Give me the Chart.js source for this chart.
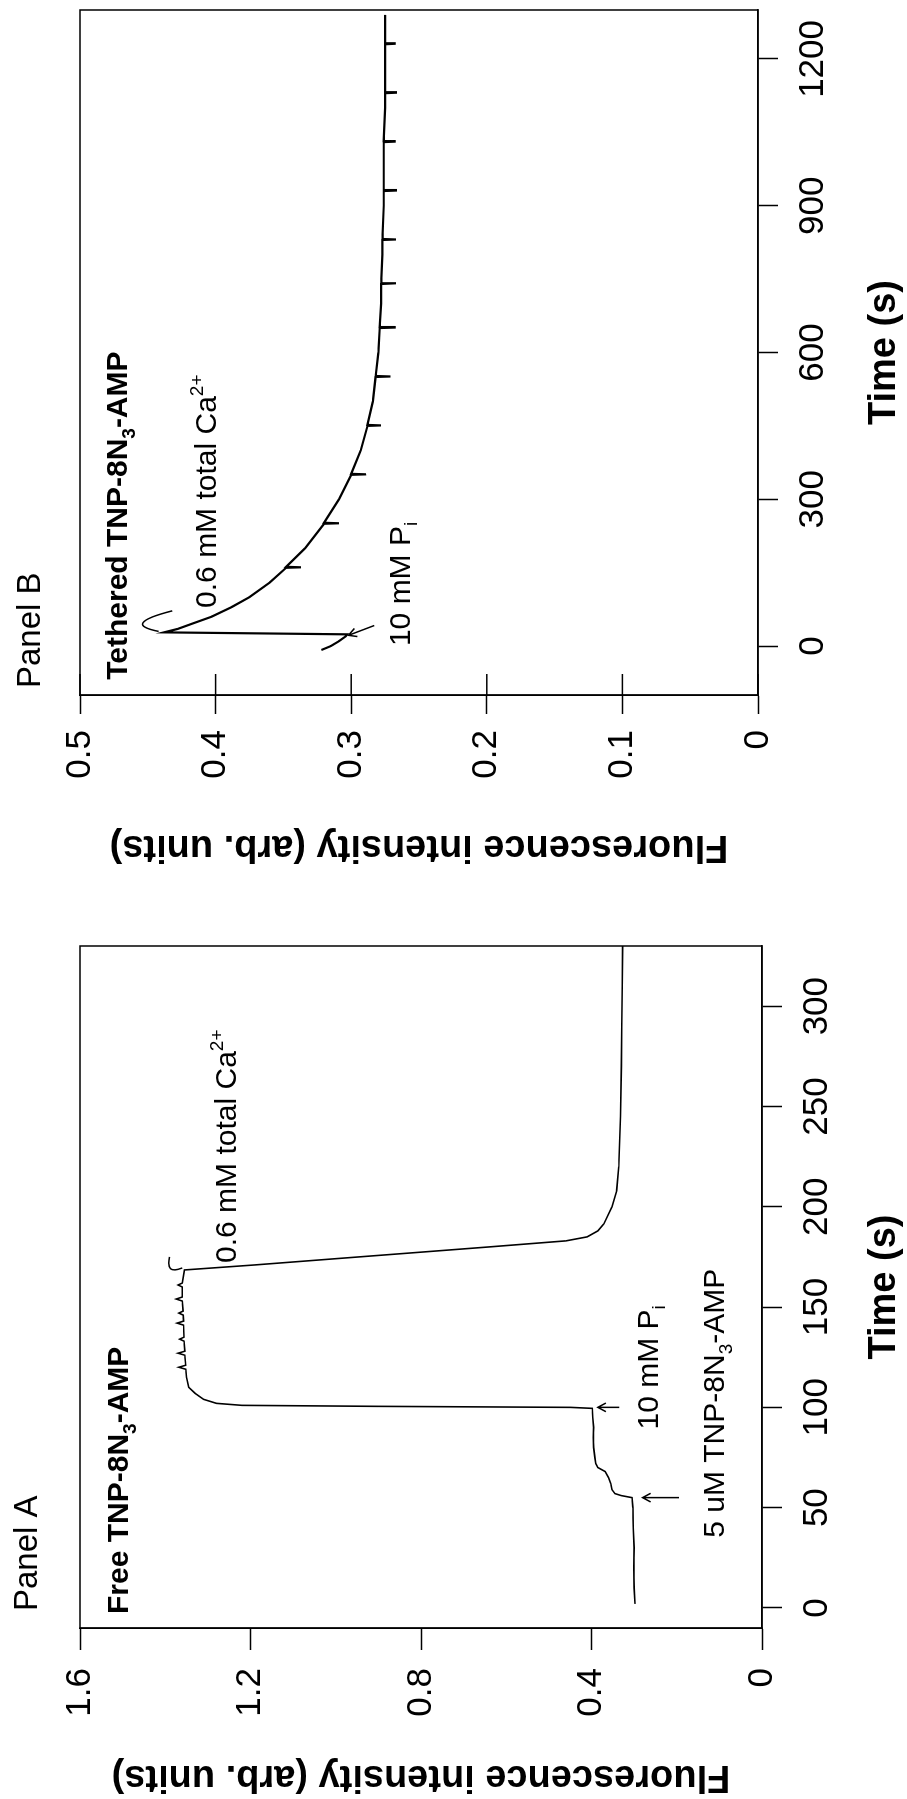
<!DOCTYPE html>
<html lang="en">
<head>
<meta charset="UTF-8">
<title>TNP-8N3-AMP fluorescence</title>
<script src="https://cdn.jsdelivr.net/npm/chart.js"></script>
<style>
  html, body { margin: 0; padding: 0; background: #fff; overflow: hidden; }
  body { width: 907px; height: 1799px; position: relative; }
  /* the figure is laid out landscape and turned a quarter to the left */
  #sheet { position: absolute; left: 0; top: 0; width: 1799px; height: 907px;
           transform-origin: 0 0; transform: translateY(1799px) rotate(-90deg); }
  #sheet canvas { position: absolute; top: 0; }
  #panelA { left: 0; }
  #panelB { left: 930px; }
</style>
</head>
<body>
<div id="sheet">
  <canvas id="panelA" width="900" height="907"></canvas>
  <canvas id="panelB" width="869" height="907"></canvas>
</div>
<script>
// ---- data (time in s, fluorescence in arb. units) ----
const timeTicksA = [0, 50, 100, 150, 200, 250, 300];
const fluorTicksA = [0, 0.4, 0.8, 1.2, 1.6];
const fluorLabelsA = ['0', '0.4', '0.8', '1.2', '1.6'];

const timeTicksB = [0, 300, 600, 900, 1200];
const fluorTicksB = [0, 0.1, 0.2, 0.3, 0.4, 0.5];
const fluorLabelsB = ['0', '0.1', '0.2', '0.3', '0.4', '0.5'];

// Panel A: free TNP-8N3-AMP
const traceA = [
  [2, 0.298], [10, 0.300], [20, 0.301], [30, 0.300], [40, 0.302], [50, 0.303],
  [55, 0.305], [56, 0.33], [57, 0.345], [59, 0.352], [62, 0.355], [65, 0.36],
  [68, 0.368], [70, 0.385], [72, 0.39], [75, 0.392], [80, 0.395], [85, 0.396],
  [90, 0.395], [95, 0.397], [99.5, 0.398], [100, 0.45], [100.5, 0.9], [101, 1.22],
  [102, 1.28], [104, 1.31], [107, 1.33], [110, 1.345], [115, 1.35], [119, 1.352],
  [120, 1.368], [121, 1.352], [126, 1.354], [127, 1.37], [128, 1.354], [133, 1.356],
  [134, 1.366], [135, 1.356], [141, 1.357], [142, 1.372], [143, 1.357], [146, 1.358],
  [147, 1.368], [148, 1.358], [153, 1.36], [154, 1.374], [155, 1.36], [160, 1.36],
  [161, 1.37], [162, 1.36], [168.5, 1.355], [171, 1.19], [174, 1.007], [177, 0.823],
  [180, 0.639], [183, 0.46], [185, 0.41], [188, 0.385], [191.5, 0.371], [200, 0.352],
  [208, 0.341], [220, 0.336], [245, 0.332], [270, 0.33], [290, 0.329], [310, 0.328],
  [330, 0.327]
];

// Panel B: tethered TNP-8N3-AMP
const traceB = [
  [-8, 0.322], [0, 0.315], [10, 0.309], [20, 0.304], [24, 0.303], [26, 0.37],
  [28, 0.438], [35, 0.428], [45, 0.418], [60, 0.403], [80, 0.388], [100, 0.375],
  [130, 0.36], [160, 0.348], [161, 0.337], [162, 0.348], [200, 0.334], [250, 0.32],
  [251, 0.309], [252, 0.32], [300, 0.309], [350, 0.3], [351, 0.289], [352, 0.3],
  [400, 0.293], [450, 0.288], [451, 0.278], [452, 0.288], [500, 0.284], [550, 0.282],
  [551, 0.271], [552, 0.282], [600, 0.28], [650, 0.279], [651, 0.268], [652, 0.279],
  [700, 0.278], [740, 0.278], [741, 0.267], [742, 0.278], [800, 0.277], [830, 0.277],
  [831, 0.267], [832, 0.277], [900, 0.276], [930, 0.276], [931, 0.267], [932, 0.276],
  [1000, 0.276], [1030, 0.276], [1031, 0.268], [1032, 0.276], [1100, 0.275],
  [1130, 0.275], [1131, 0.267], [1132, 0.275], [1200, 0.275], [1230, 0.275],
  [1231, 0.268], [1232, 0.275], [1290, 0.275]
];

const FONT = "'Liberation Sans', Arial, sans-serif";
Chart.defaults.font.family = FONT;
Chart.defaults.color = '#000';

// text with sub/superscripts, drawn left to right from the baseline point
function drawParts(ctx, x, y, parts, size, weight) {
  let cx = x;
  parts.forEach(p => {
    const small = p.sub || p.sup;
    ctx.font = `${weight} ${small ? Math.round(size * 0.62) : size}px ${FONT}`;
    const dy = p.sub ? size * 0.25 : p.sup ? -size * 0.42 : 0;
    ctx.fillText(p.t, cx, y + dy);
    cx += ctx.measureText(p.t).width;
  });
}

const notes = {
  id: 'notes',
  afterDraw(chart, args, opts) {
    const { ctx, chartArea: a, scales: { x, y } } = chart;
    const px = p => [x.getPixelForValue(p[0]), y.getPixelForValue(p[1])];
    ctx.save();
    ctx.strokeStyle = '#000';
    ctx.fillStyle = '#000';
    ctx.lineWidth = 1.5;
    ctx.strokeRect(a.left, a.top, a.right - a.left, a.bottom - a.top);
    if (opts.innerTick) {
      y.ticks.forEach(t => {
        const py = y.getPixelForValue(t.value);
        ctx.beginPath();
        ctx.moveTo(a.left, py);
        ctx.lineTo(a.left + opts.innerTick, py);
        ctx.stroke();
      });
    }
    ctx.textAlign = 'left';
    ctx.textBaseline = 'alphabetic';
    drawParts(ctx, a.left + opts.panel.dx, opts.panel.y, [{ t: opts.panel.text }], 33, 'normal');
    opts.items.forEach(it => {
      if (it.text) {
        const [tx, ty] = px(it.at);
        drawParts(ctx, tx, ty, it.text, 30, it.bold ? 'bold' : 'normal');
      }
      if (it.arrow) {
        const [x1, y1] = px(it.arrow[0]);
        const [x2, y2] = px(it.arrow[1]);
        const ang = Math.atan2(y2 - y1, x2 - x1);
        ctx.beginPath();
        ctx.moveTo(x1, y1);
        ctx.lineTo(x2, y2);
        ctx.moveTo(x2 - 9 * Math.cos(ang - 0.5), y2 - 9 * Math.sin(ang - 0.5));
        ctx.lineTo(x2, y2);
        ctx.lineTo(x2 - 9 * Math.cos(ang + 0.5), y2 - 9 * Math.sin(ang + 0.5));
        ctx.stroke();
      }
      if (it.hook) {
        const [p0, p1, p2] = it.hook.map(px);
        ctx.beginPath();
        ctx.moveTo(p0[0], p0[1]);
        ctx.quadraticCurveTo(p1[0], p1[1], p2[0], p2[1]);
        ctx.stroke();
      }
    });
    ctx.restore();
  }
};

function axisOpts(ticks, labels, min, max, fit, tickLen, pad, title) {
  return {
    type: 'linear', min, max,
    afterBuildTicks: s => { s.ticks = ticks.map(v => ({ value: v })); },
    afterFit: fit,
    grid: { drawOnChartArea: false, drawTicks: true, tickLength: tickLen, tickColor: '#000', tickWidth: 1.5 },
    border: { display: true, color: '#000', width: 1.5 },
    ticks: {
      font: { size: 35 }, padding: pad, maxRotation: 0, minRotation: 0, autoSkip: false,
      callback: v => labels[ticks.indexOf(v)]
    },
    title: { display: true, text: title, font: { size: 38, weight: 'bold' }, padding: { top: 0, bottom: 0 } }
  };
}

function makeChart(id, trace, cfg) {
  return new Chart(document.getElementById(id), {
    type: 'line',
    data: {
      datasets: [{
        data: trace.map(([t, f]) => ({ x: t, y: f })),
        borderColor: '#000', borderWidth: cfg.lineWidth, pointRadius: 0, tension: 0, fill: false
      }]
    },
    options: {
      responsive: false, animation: false, devicePixelRatio: 1,
      layout: { padding: cfg.padding },
      scales: {
        x: axisOpts(cfg.timeTicks, cfg.timeTicks.map(String), cfg.tMin, cfg.tMax,
          s => { s.height = cfg.xHeight; }, 20, 14, 'Time (s)'),
        y: axisOpts(cfg.fluorTicks, cfg.fluorLabels, 0, cfg.fMax,
          s => { s.width = cfg.yWidth; }, cfg.yTick, cfg.yPad, 'Fluorescence intensity (arb. units)')
      },
      plugins: { legend: { display: false }, tooltip: { enabled: false }, notes: cfg.notes }
    },
    plugins: [notes]
  });
}

makeChart('panelA', traceA, {
  lineWidth: 1.6, padding: { left: 0, right: 47, top: 80, bottom: 0 },
  timeTicks: timeTicksA, tMin: -10, tMax: 330, xHeight: 145,
  fluorTicks: fluorTicksA, fluorLabels: fluorLabelsA, fMax: 1.6, yWidth: 171, yTick: 22, yPad: 18,
  notes: {
    panel: { text: 'Panel A', dx: 17, y: 37 },
    items: [
      { bold: true, at: [-3, 1.487], text: [{ t: 'Free TNP-8N' }, { t: '3', sub: true }, { t: '-AMP' }] },
      { at: [172, 1.234], text: [{ t: '0.6 mM total Ca' }, { t: '2+', sup: true }] },
      { hook: [[169.5, 1.36], [166, 1.4], [175, 1.39]] },
      { at: [89, 0.244], text: [{ t: '10 mM P' }, { t: 'i', sub: true }] },
      { arrow: [[100, 0.335], [100, 0.385]] },
      { at: [35, 0.088], text: [{ t: '5 uM TNP-8N' }, { t: '3', sub: true }, { t: '-AMP' }] },
      { arrow: [[55, 0.195], [55, 0.28]] }
    ]
  }
});

makeChart('panelB', traceB, {
  lineWidth: 2.2, padding: { left: 0, right: 10, top: 80, bottom: 0 },
  timeTicks: timeTicksB, tMin: -100, tMax: 1300, xHeight: 149,
  fluorTicks: fluorTicksB, fluorLabels: fluorLabelsB, fMax: 0.5, yWidth: 174, yTick: 19, yPad: 16,
  notes: {
    panel: { text: 'Panel B', dx: 7, y: 40 },
    innerTick: 21,
    items: [
      { bold: true, at: [-69, 0.465], text: [{ t: 'Tethered TNP-8N' }, { t: '3', sub: true }, { t: '-AMP' }] },
      { at: [78, 0.4], text: [{ t: '0.6 mM total Ca' }, { t: '2+', sup: true }] },
      { hook: [[30, 0.442], [45, 0.47], [72, 0.432]] },
      { at: [0, 0.257], text: [{ t: '10 mM P' }, { t: 'i', sub: true }] },
      { arrow: [[42, 0.283], [22, 0.302]] }
    ]
  }
});
</script>
</body>
</html>
